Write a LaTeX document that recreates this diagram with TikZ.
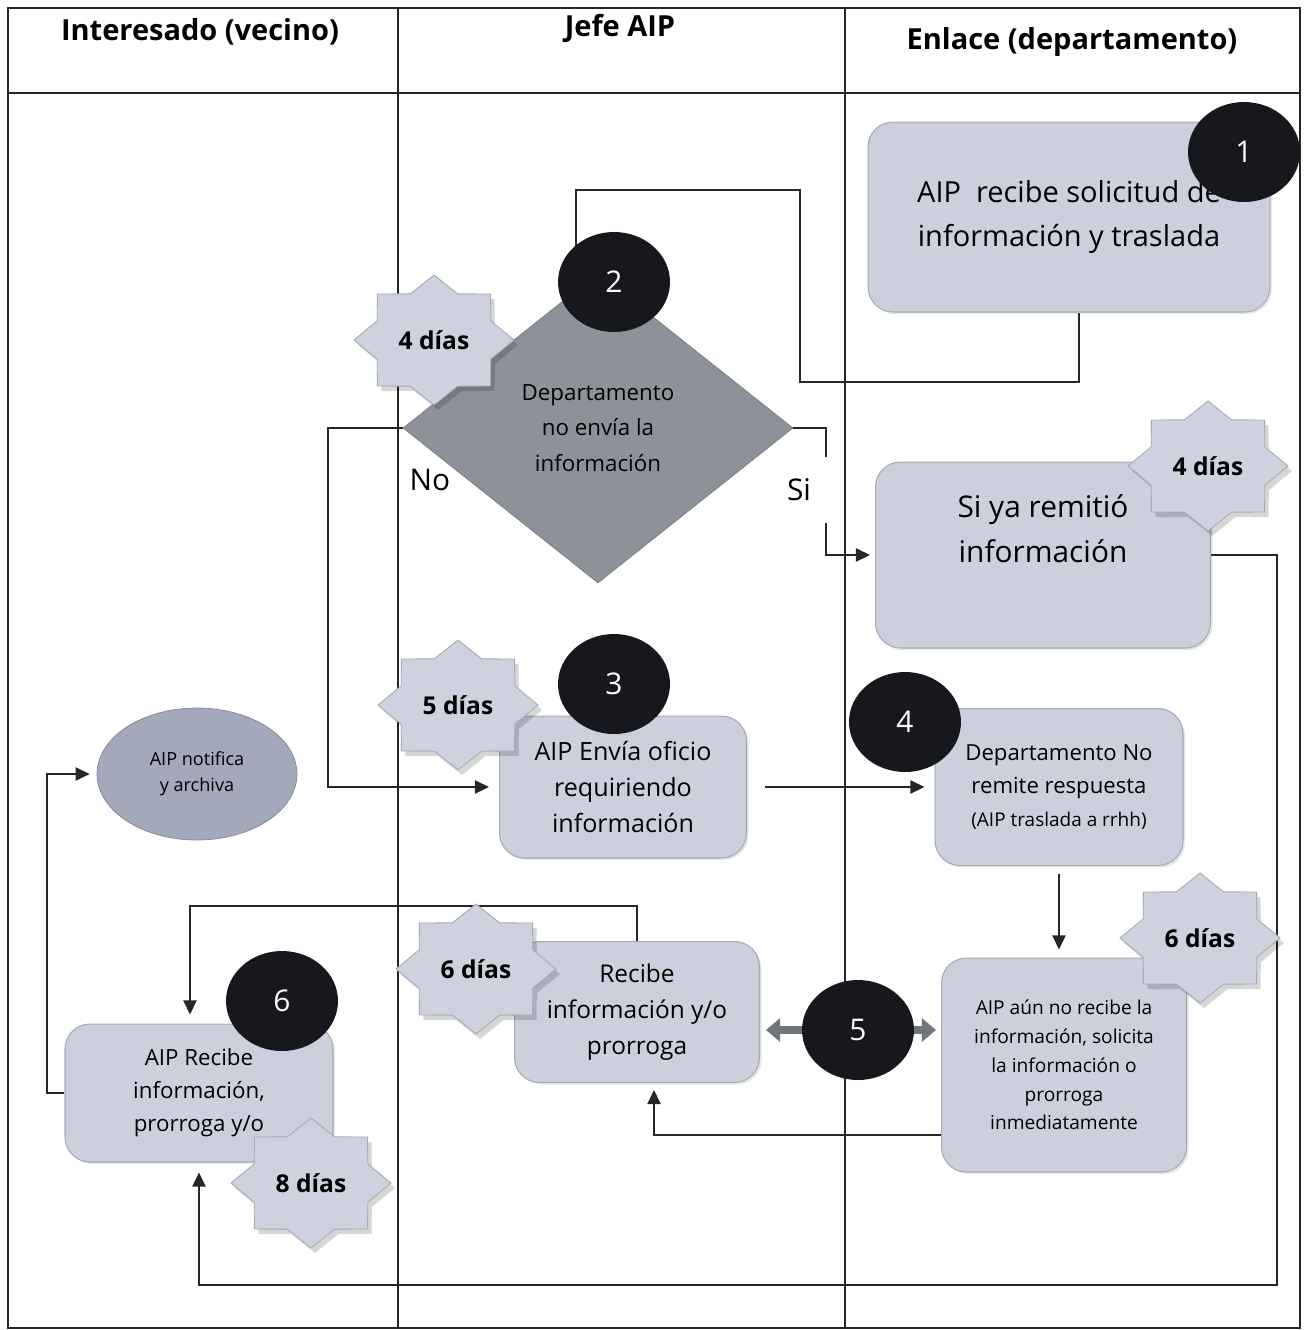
\documentclass[tikz,border=0pt]{standalone}
\usepackage{fontspec}
\setmainfont{Open Sans}
\usetikzlibrary{arrows.meta, shapes.geometric, shadows}
\definecolor{cajafill}{RGB}{203,208,220}
\definecolor{cajaborde}{RGB}{165,170,182}
\definecolor{rombofill}{RGB}{141,145,153}
\definecolor{notiffill}{RGB}{163,168,186}
\definecolor{estrellafill}{RGB}{205,210,222}
\definecolor{pasofill}{RGB}{22,24,30}
\definecolor{flechagris}{RGB}{112,118,122}
\pgfdeclarelayer{bg}
\pgfsetlayers{bg,main}
\tikzstyle{lane}=[line width=1.1pt, black!85]
\tikzstyle{flujo}=[line width=0.9pt, black!85, >={Triangle[length=8pt,width=7.5pt]}]
\tikzstyle{doble}=[line width=5pt, flechagris, {Triangle[length=8pt,width=13pt]}-{Triangle[length=8pt,width=13pt]}]
\tikzstyle{caja}=[rectangle, rounded corners=0.5cm, fill=cajafill, draw=cajaborde, line width=0.6pt, align=center, inner sep=2pt,
  drop shadow={shadow xshift=1.2pt, shadow yshift=-1.2pt, opacity=0.2}]
\tikzstyle{rombo}=[diamond, fill=rombofill, draw=rombofill!85!black, align=center, inner sep=0pt,
  minimum width=7.8cm, minimum height=6.2cm, font=\fontsize{12.7}{20.4}\selectfont]
\tikzstyle{fin}=[ellipse, fill=notiffill, draw=notiffill!80!black, align=center, inner sep=0pt,
  minimum width=4cm, minimum height=2.64cm, font=\fontsize{10.3}{14.7}\selectfont]
\tikzstyle{paso}=[ellipse, fill=pasofill, text=white, inner sep=0pt, minimum width=2.24cm, minimum height=2cm,
  font=\fontsize{17}{20}\selectfont]
\tikzstyle{titulo}=[font=\bfseries\fontsize{16.5}{20}\selectfont]
\tikzstyle{rama}=[font=\fontsize{17}{20}\selectfont]
\tikzstyle{estrella}=[fill=estrellafill, draw=cajaborde, line width=0.5pt]
\tikzstyle{startext}=[font=\bfseries\fontsize{14}{16}\selectfont]
\tikzset{
  plazo/.pic={
    \fill[black, opacity=0.16, shift={(4,5)}] (0:80 and 65)
      \foreach \k in {0,...,7} { -- (\k*45+22.5:61.5 and 50) -- (\k*45+45:80 and 65) } -- cycle;
    \path[estrella] (0:80 and 65)
      \foreach \k in {0,...,7} { -- (\k*45+22.5:61.5 and 50) -- (\k*45+45:80 and 65) } -- cycle;
    \node[startext] (-t) {#1};
  }
}

\begin{document}
\begin{tikzpicture}[x=0.02cm, y=-0.02cm]
  \useasboundingbox (0,0) rectangle (1303,1330);

  \node[titulo] (h1) at (200,32) {Interesado (vecino)};
  \node[titulo] (h2) at (620,28) {Jefe AIP};
  \node[titulo] (h3) at (1072,42) {Enlace (departamento)};

  \node[caja, minimum width=8.04cm, minimum height=3.8cm, font=\fontsize{16.5}{25.5}\selectfont]
    (solic) at (1069,217) {AIP\ \ recibe solicitud de\\información y traslada};
  \node[rombo] (decide) at (598,428) {Departamento\\no envía la\\información};
  \node[caja, minimum width=6.7cm, minimum height=3.72cm, text depth=1.05cm, font=\fontsize{17}{25.5}\selectfont]
    (remitio) at (1043,555) {Si ya remitió\\información};
  \node[caja, minimum width=4.94cm, minimum height=2.84cm, font=\fontsize{14.3}{20.4}\selectfont]
    (oficio) at (623,787) {AIP Envía oficio\\requiriendo\\información};
  \node[caja, minimum width=4.96cm, minimum height=3.14cm, font=\fontsize{12.6}{18.9}\selectfont]
    (noremite) at (1059,787) {Departamento No\\remite respuesta\\{\fontsize{10.8}{18.9}\selectfont (AIP traslada a rrhh)}};
  \node[caja, minimum width=4.9cm, minimum height=4.28cm, font=\fontsize{10.9}{16.4}\selectfont]
    (aun) at (1064,1065) {AIP aún no recibe la\\información, solicita\\la información o\\prorroga\\inmediatamente};
  \node[caja, minimum width=4.9cm, minimum height=2.82cm, font=\fontsize{13.9}{20.4}\selectfont]
    (recibe) at (637,1012) {Recibe\\información y/o\\prorroga};
  \node[caja, minimum width=5.36cm, minimum height=2.76cm, font=\fontsize{12.7}{18.7}\selectfont]
    (recibe6) at (199,1093) {AIP Recibe\\información,\\prorroga y/o};
  \node[fin] (notif) at (197,774) {AIP notifica\\y archiva};

  \node[rama] (no) at (430,480) {No};
  \node[rama] (si) at (799,490) {Si};

  \pic (s1) at (434,340) {plazo={4 días}};
  \pic (s2) at (1208,466) {plazo={4 días}};
  \pic (s3) at (458,705) {plazo={5 días}};
  \pic (s4) at (1200,938) {plazo={6 días}};
  \pic (s5) at (476,969) {plazo={6 días}};
  \pic (s6) at (311,1183) {plazo={8 días}};

  \node[paso] (n1) at (1244,152) {1};
  \node[paso] (n2) at (614,282) {2};
  \node[paso] (n3) at (614,684) {3};
  \node[paso] (n4) at (905,722) {4};
  \node[paso] (n5) at (858,1030) {5};
  \node[paso] (n6) at (282,1001) {6};

  \coordinate (si1) at (826,457);
  \coordinate (si2) at (826,523);

  \begin{pgfonlayer}{bg}
    \draw[lane] (8,8) rectangle (1300,1328);
    \draw[lane] (8,93) -- (1300,93);
    \draw[lane] (398,8) -- (398,1328);
    \draw[lane] (845,8) -- (845,1328);

    \draw[flujo] (solic.south -| 1079,0) |- (800,382) |- (576,190) -- (n2 -| 576,0);
    \draw[flujo,->,shorten >=0.2cm] (decide.west) -- (328,428) |- (oficio.west);
    \draw[flujo] (decide.east) -| (si1);
    \draw[flujo,->,shorten >=0.1cm] (si2) |- (remitio.west);
    \draw[flujo,->,shorten >=0.2cm] (remitio.east) -| (1277,1285) -| (recibe6.south);
    \draw[flujo,->,shorten <=0.36cm,shorten >=0.2cm] (oficio.east) -- (noremite.west);
    \draw[flujo,->,shorten <=0.16cm,shorten >=0.16cm] (noremite.south) -- (noremite.south |- aun.north);
    \draw[flujo,->,shorten >=0.14cm] (aun.west |- 0,1135) -| (recibe.south -| 654,0);
    \draw[flujo,->,shorten >=0.18cm] (recibe.north) |- (190,906) -- (recibe6.north -| 190,0);
    \draw[flujo,->,shorten >=0.14cm] (recibe6.west) -- (47,1093) |- (notif.west);
    \draw[doble, shorten <=0.12cm, shorten >=0.1cm] (recibe.east |- n5) -- (aun.west |- n5);
  \end{pgfonlayer}
\end{tikzpicture}
\end{document}
